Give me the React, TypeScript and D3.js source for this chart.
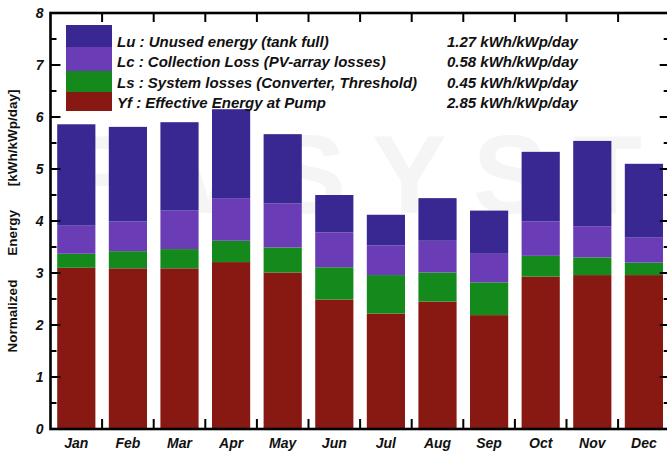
import React from "react";
import * as d3 from "d3";

// Monthly normalized energy components (kWh/kWp/day)
const months = ["Jan", "Feb", "Mar", "Apr", "May", "Jun", "Jul", "Aug", "Sep", "Oct", "Nov", "Dec"];
const yfValues = [3.10, 3.09, 3.09, 3.21, 3.01, 2.49, 2.22, 2.45, 2.19, 2.93, 2.96, 2.96];
const lsValues = [0.27, 0.33, 0.37, 0.41, 0.48, 0.62, 0.74, 0.56, 0.63, 0.40, 0.34, 0.24];
const lcValues = [0.54, 0.57, 0.74, 0.82, 0.85, 0.67, 0.57, 0.61, 0.55, 0.66, 0.60, 0.48];
const luValues = [1.95, 1.82, 1.70, 1.71, 1.33, 0.72, 0.59, 0.82, 0.83, 1.34, 1.64, 1.42];

const seriesKeys = ["yf", "ls", "lc", "lu"];
const seriesColors: Record<string, string> = {
  lu: "#392891",
  lc: "#6a3db6",
  ls: "#158a1c",
  yf: "#881912",
};

// Legend, top to bottom
const legendKeys = ["lu", "lc", "ls", "yf"];
const legendLabels = [
  "Lu : Unused energy (tank full)",
  "Lc : Collection Loss (PV-array losses)",
  "Ls : System losses (Converter, Threshold)",
  "Yf : Effective Energy at Pump",
];
const legendValues = ["1.27 kWh/kWp/day", "0.58 kWh/kWp/day", "0.45 kWh/kWp/day", "2.85 kWh/kWp/day"];

const yTickValues = [0, 1, 2, 3, 4, 5, 6, 7, 8];
const yAxisTitle = "Normalized Energy [kWh/kWp/day]";
const watermark = "PVSYST";

const W = 667;
const H = 454;
const FONT = "'Liberation Sans', Arial, Helvetica, sans-serif";

export default function App() {
  const rows = months.map((m, i) => ({
    month: m,
    yf: yfValues[i],
    ls: lsValues[i],
    lc: lcValues[i],
    lu: luValues[i],
  }));

  const x = d3.scaleBand<string>().domain(months).range([50.5, 669.7]).paddingInner(0.26).paddingOuter(0.13);
  const y = d3.scaleLinear().domain([0, 8]).range([429, 13]);
  const stacked = d3.stack<any>().keys(seriesKeys)(rows);

  const [x0, x1] = x.range();
  const y0 = y(0);
  const yTop = y(8);
  const step = x.step();

  const boundaryTicks = d3.range(1, months.length);
  const yMinor = d3.range(0, 8.01, 0.5);

  // legend swatch block
  const swX = 66;
  const swW = 46;
  const swEdges = [25, 47, 71, 92, 111];
  const textBase = [46.5, 67, 87.5, 108];

  return (
    <svg
      width={W}
      height={H}
      style={{ position: "absolute", left: 0, top: 0, background: "#fff" }}
      fontFamily={FONT}
    >
      {/* faint background watermark */}
      <text x={70} y={213} fontSize={112} fontWeight="bold" letterSpacing={26} fill="#f5f5f5">
        {watermark}
      </text>

      {/* stacked bars */}
      {stacked.map((layer) => (
        <g key={layer.key} fill={seriesColors[layer.key]}>
          {layer.map((d, i) => (
            <rect
              key={i}
              x={x(months[i])}
              width={x.bandwidth()}
              y={y(d[1])}
              height={y(d[0]) - y(d[1])}
            />
          ))}
        </g>
      ))}

      {/* frame */}
      <rect x={x0} y={yTop} width={x1 - x0} height={y0 - yTop} fill="none" stroke="#000" strokeWidth={2.6} />

      {/* month boundary ticks */}
      {boundaryTicks.map((k) => {
        const bx = x0 + k * step;
        return (
          <g key={k} stroke="#000" strokeWidth={2}>
            <line x1={bx} x2={bx} y1={y0} y2={y0 - 10} />
            <line x1={bx} x2={bx} y1={yTop} y2={yTop + 9} />
          </g>
        );
      })}

      {/* value ticks on both sides */}
      {yMinor.map((v) => {
        const major = Number.isInteger(v);
        const len = major ? 10 : 6;
        return (
          <g key={v} stroke="#000" strokeWidth={2}>
            <line x1={x0} x2={x0 + len} y1={y(v)} y2={y(v)} />
            <line x1={x1} x2={x1 - len} y1={y(v)} y2={y(v)} />
          </g>
        );
      })}

      {/* value tick labels */}
      {yTickValues.map((v) => (
        <text
          key={v}
          x={x0 - 7}
          y={y(v) + 5}
          textAnchor="end"
          fontSize={14}
          fontWeight="bold"
          fontStyle="italic"
          fill="#111"
        >
          {v}
        </text>
      ))}

      {/* month labels */}
      {months.map((m) => (
        <text
          key={m}
          x={(x(m) as number) + x.bandwidth() / 2}
          y={448}
          textAnchor="middle"
          fontSize={14}
          fontWeight="bold"
          fontStyle="italic"
          fill="#111"
        >
          {m}
        </text>
      ))}

      {/* axis title */}
      <text
        transform={`translate(17, ${(y0 + yTop) / 2}) rotate(-90)`}
        textAnchor="middle"
        fontSize={13.5}
        fontWeight="bold"
        fill="#111"
        style={{ wordSpacing: "20px" }}
      >
        {yAxisTitle}
      </text>

      {/* legend */}
      {legendKeys.map((k, i) => (
        <rect
          key={k}
          x={swX}
          y={swEdges[i]}
          width={swW}
          height={swEdges[i + 1] - swEdges[i]}
          fill={seriesColors[k]}
        />
      ))}
      {legendLabels.map((t, i) => (
        <text
          key={t}
          x={117}
          y={textBase[i]}
          fontSize={15}
          fontWeight="bold"
          fontStyle="italic"
          fill="#111"
        >
          {t}
        </text>
      ))}
      {legendValues.map((t, i) => (
        <text
          key={i}
          x={447}
          y={textBase[i]}
          fontSize={15}
          fontWeight="bold"
          fontStyle="italic"
          fill="#111"
        >
          {t}
        </text>
      ))}
    </svg>
  );
}
